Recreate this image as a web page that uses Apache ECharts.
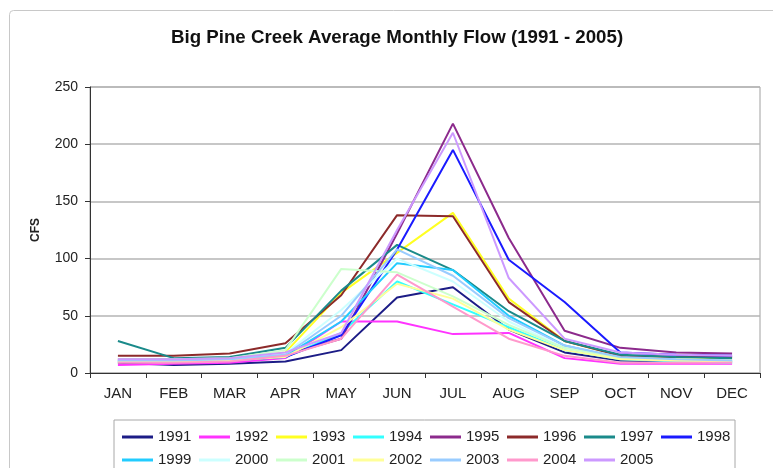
<!DOCTYPE html>
<html>
<head>
<meta charset="utf-8">
<script src="https://cdn.jsdelivr.net/npm/echarts@6/dist/echarts.min.js"></script>
<style>
html,body{margin:0;padding:0;background:#fff;}
#chart{width:773px;height:468px;}
</style>
</head>
<body>
<div id="chart"></div>
<script>
// months on the x axis
var months = ['JAN','FEB','MAR','APR','MAY','JUN','JUL','AUG','SEP','OCT','NOV','DEC'];
var years = ['1991','1992','1993','1994','1995','1996','1997','1998','1999','2000','2001','2002','2003','2004','2005'];

// average monthly flow (cfs)
var y1991 = [9, 7, 8, 10, 20, 66, 75, 38, 18, 11, 10, 10];
var y1992 = [7, 8, 9, 13, 45, 45, 34, 35, 13, 8, 8, 8];
var y1993 = [10, 11, 12, 18, 70, 105, 140, 65, 28, 15, 13, 12];
var y1994 = [10, 10, 11, 14, 35, 80, 60, 40, 20, 12, 10, 9];
var y1995 = [12, 12, 13, 16, 30, 122, 218, 118, 37, 22, 18, 17];
var y1996 = [15, 15, 17, 26, 68, 138, 137, 62, 28, 15, 14, 14];
var y1997 = [28, 13, 14, 22, 72, 112, 90, 54, 28, 16, 14, 13];
var y1998 = [11, 10, 11, 14, 33, 108, 195, 99, 62, 18, 16, 15];
var y1999 = [10, 10, 11, 15, 45, 96, 90, 50, 24, 13, 11, 10];
var y2000 = [11, 11, 12, 17, 55, 100, 80, 45, 22, 13, 11, 11];
var y2001 = [12, 12, 13, 20, 91, 88, 67, 42, 22, 13, 12, 11];
var y2002 = [10, 10, 11, 14, 40, 78, 65, 38, 20, 12, 11, 10];
var y2003 = [11, 11, 12, 16, 50, 108, 85, 48, 24, 14, 12, 11];
var y2004 = [9, 9, 10, 15, 30, 86, 58, 30, 15, 9, 9, 9];
var y2005 = [12, 12, 13, 18, 35, 125, 210, 83, 30, 18, 16, 15];

var allData = [y1991,y1992,y1993,y1994,y1995,y1996,y1997,y1998,y1999,y2000,y2001,y2002,y2003,y2004,y2005];
// excel default line colours
var colors = ['#1c1c86','#ff33ff','#ffff22','#33ffff','#8c2a8c','#8c2a2a','#1a8a8a','#1a1aff',
              '#22ccff','#ccffff','#ccffcc','#ffff99','#99ccff','#ff99cc','#cc99ff'];

var myChart = echarts.init(document.getElementById('chart'));

var series = [];
for (var i = 0; i < years.length; i++) {
    series.push({
        name: years[i],
        type: 'line',
        data: allData[i],
        symbol: 'none',
        lineStyle: { width: 2, color: colors[i] },
        itemStyle: { color: colors[i] }
    });
}

var option = {
    animation: false,
    color: colors,
    textStyle: { fontFamily: 'Liberation Sans, Arial, sans-serif' },
    graphic: [{
        type: 'rect',
        shape: { x: 9.5, y: 10.5, width: 800, height: 500, r: 4 },
        style: { fill: 'none', stroke: '#c8c8c8', lineWidth: 1 },
        z: -1
    }],
    title: {
        text: 'Big Pine Creek Average Monthly Flow (1991 - 2005)',
        left: 166,
        top: 23,
        textStyle: { fontSize: 18.7, fontWeight: 'bold', color: '#111' }
    },
    grid: {
        left: 90,
        right: 13,
        top: 87,
        bottom: 95,
        show: true,
        borderColor: '#a0a0a0',
        borderWidth: 1
    },
    legend: {
        data: years,
        left: 114,
        top: 420,
        width: 640,
        padding: [7, 0, 8, 8],
        itemGap: 3,
        itemWidth: 31,
        itemHeight: 3,
        icon: 'rect',
        borderColor: '#a8a8a8',
        borderWidth: 1,
        textStyle: { fontSize: 15, color: '#222', width: 38, lineHeight: 20 }
    },
    xAxis: {
        type: 'category',
        data: months,
        boundaryGap: true,
        axisLine: { lineStyle: { color: '#333', width: 1 } },
        axisTick: { show: true, length: 5, lineStyle: { color: '#333' } },
        axisLabel: { fontSize: 15, color: '#222', margin: 13 }
    },
    yAxis: {
        type: 'value',
        min: 0,
        max: 250,
        interval: 50,
        name: 'CFS',
        nameLocation: 'middle',
        nameRotate: 90,
        nameGap: 48,
        nameTextStyle: { fontSize: 12, fontWeight: 'bold', color: '#222' },
        axisLine: { show: true, lineStyle: { color: '#333', width: 1 } },
        axisTick: { show: true, length: 5, lineStyle: { color: '#333' } },
        axisLabel: { fontSize: 14, color: '#222', margin: 12 },
        splitLine: { lineStyle: { color: '#b4b4b4', width: 1.5 } }
    },
    series: series
};

myChart.setOption(option);
</script>
</body>
</html>
